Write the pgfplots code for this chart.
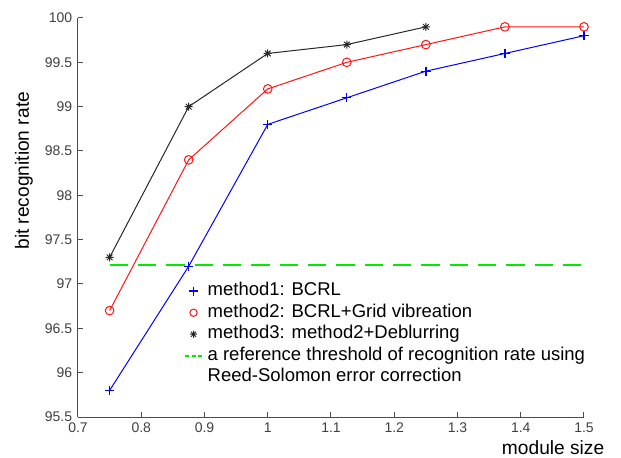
\documentclass[border=0pt]{standalone}
\usepackage{pgfplots}
\pgfplotsset{compat=1.18}
\usepackage{fontspec}
\setmainfont{Liberation Sans}
\definecolor{cBlue}{RGB}{0,0,255}
\definecolor{cRed}{RGB}{255,20,20}
\definecolor{cBlack}{RGB}{40,40,40}
\definecolor{cGreen}{RGB}{0,235,0}
% matlab-like asterisk: plus and cross together
\pgfdeclareplotmark{mstar}{%
  \pgfpathmoveto{\pgfqpoint{-\pgfplotmarksize}{0pt}}\pgfpathlineto{\pgfqpoint{\pgfplotmarksize}{0pt}}%
  \pgfpathmoveto{\pgfqpoint{0pt}{-\pgfplotmarksize}}\pgfpathlineto{\pgfqpoint{0pt}{\pgfplotmarksize}}%
  \pgfpathmoveto{\pgfqpoint{-0.707\pgfplotmarksize}{-0.707\pgfplotmarksize}}\pgfpathlineto{\pgfqpoint{0.707\pgfplotmarksize}{0.707\pgfplotmarksize}}%
  \pgfpathmoveto{\pgfqpoint{-0.707\pgfplotmarksize}{0.707\pgfplotmarksize}}\pgfpathlineto{\pgfqpoint{0.707\pgfplotmarksize}{-0.707\pgfplotmarksize}}%
  \pgfusepathqstroke}
\begin{document}
\begin{tikzpicture}
\begin{axis}[
    scale only axis,
    width=303.6pt, height=239.4pt,
    xmin=0.7, xmax=1.5,
    ymin=95.5, ymax=100,
    xtick={0.7,0.8,0.9,1,1.1,1.2,1.3,1.4,1.5},
    ytick={95.5,96,96.5,97,97.5,98,98.5,99,99.5,100},
    axis lines*=left,
    tick align=inside,
    major tick length=3pt,
    axis line style={draw=black!70, line width=0.6pt},
    every tick/.style={draw=black!70, line width=0.6pt},
    /pgf/number format/assume math mode=true,
    ticklabel style={font=\fontsize{8.4}{10}\selectfont, text=black!75},
    xticklabel style={yshift=-2.5pt, inner sep=1pt},
    xlabel={module size},
    ylabel={bit recognition rate},
    every axis x label/.style={at={(rel axis cs:0.939,0)}, anchor=base, inner sep=0pt, yshift=-22.6pt, font=\fontsize{11.5}{13}\selectfont},
    every axis y label/.style={at={(rel axis cs:0,0.617)}, anchor=center, rotate=90, yshift=32.4pt, font=\fontsize{11.5}{13}\selectfont},
    clip=false,
    legend image code/.code={\draw[mark repeat=2,mark phase=2,#1] plot coordinates {(0pt,0pt)(5pt,0pt)(10pt,0pt)};},
    legend cell align=left,
    legend style={draw=none, fill=none, at={(0.2095,0.338)}, anchor=north west,
        font=\fontsize{11.1}{12}\selectfont, inner sep=0pt,
        row sep=2.4pt, column sep=3pt,
        nodes={inner sep=0pt, text height=8pt, text depth=2.5pt}},
]
% threshold
\addplot[forget plot, draw=cGreen, line width=1.2pt, dash pattern=on 11pt off 6pt] coordinates {
    (0.75, 97.21) (1.5, 97.21)
};

% method1
\addplot[forget plot, color=cBlue, line width=0.6pt, mark=+, mark size=2.8pt, mark options={line width=0.8pt}] coordinates {
    (0.75, 95.8)
    (0.875, 97.2)
    (1.0, 98.8)
    (1.125, 99.1)
    (1.25, 99.4)
    (1.375, 99.6)
    (1.5, 99.8)
};

% method2
\addplot[forget plot, color=cRed, line width=0.6pt, mark=o, mark size=2.6pt] coordinates {
    (0.75, 96.7)
    (0.875, 98.4)
    (1.0, 99.2)
    (1.125, 99.5)
    (1.25, 99.7)
    (1.375, 99.9)
    (1.5, 99.9)
};

% method3
\addplot[forget plot, color=cBlack, line width=0.6pt, mark=mstar, mark size=2.4pt] coordinates {
    (0.75, 97.3)
    (0.875, 99.0)
    (1.0, 99.6)
    (1.125, 99.7)
    (1.25, 99.9)
};

\addlegendimage{only marks, color=cBlue, mark=+, mark size=2.8pt, line width=0.9pt}
\addlegendentry{method1: BCRL}
\addlegendimage{only marks, color=cRed, mark=o, mark size=2.2pt, line width=0.6pt}
\addlegendentry{method2: BCRL+Grid vibreation}
\addlegendimage{only marks, color=cBlack, mark=mstar, mark size=2.2pt, line width=0.6pt}
\addlegendentry{method3: method2+Deblurring}
\addlegendimage{draw=cGreen, line width=1pt, dash pattern=on 2.4pt off 1.4pt}
\addlegendentry{a reference threshold of recognition rate using}
\addlegendimage{empty legend}
\addlegendentry{Reed-Solomon error correction}

\coordinate (ll) at (rel axis cs:0,0);
\coordinate (ur) at (rel axis cs:1,1);
\end{axis}
\pgfresetboundingbox
\useasboundingbox ([shift={(-46.8pt,-24pt)}]ll) rectangle ([shift={(22.2pt,10.8pt)}]ur);
\end{tikzpicture}
\end{document}
